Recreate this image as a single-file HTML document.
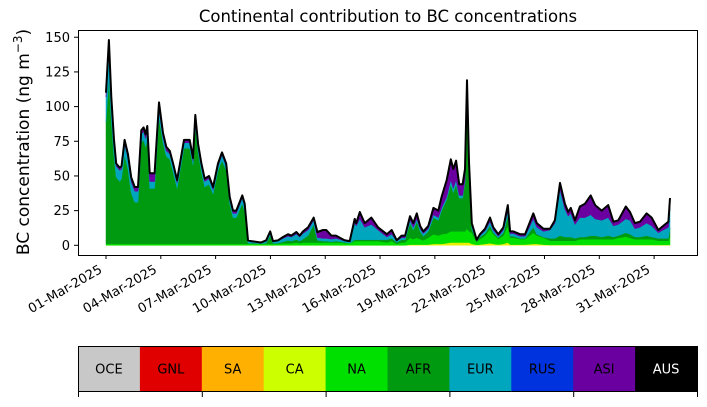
<!DOCTYPE html>
<html><head><meta charset="utf-8"><style>
body{margin:0;background:#fff;width:707px;height:402px;overflow:hidden}
svg{font-family:"DejaVu Sans","Liberation Sans",sans-serif}
</style></head><body>
<svg id="chart" width="707" height="402" viewBox="0 0 707 402" xmlns="http://www.w3.org/2000/svg">
<text x="388" y="22" font-size="16.5" text-anchor="middle">Continental contribution to BC concentrations</text>
<text transform="translate(29,142) rotate(-90)" font-size="17" text-anchor="middle">BC concentration (ng m<tspan dy="-7" font-size="12">−3</tspan><tspan dy="7">)</tspan></text>
<g id="plot"></g>
<rect x="78.5" y="30.5" width="619" height="225" fill="none" stroke="#000" stroke-width="1"/>
<g id="yaxis"></g>
<g id="xaxis"></g>
<g id="legend"></g>
</svg>
<script>
const days=[1.00,1.16,1.29,1.44,1.56,1.75,1.85,2.02,2.20,2.38,2.57,2.75,2.93,3.06,3.17,3.26,3.39,3.66,3.90,4.12,4.30,4.49,4.67,4.89,5.27,5.58,5.76,5.89,6.04,6.22,6.40,6.64,6.86,7.13,7.35,7.58,7.77,7.95,8.13,8.46,8.59,
8.77,8.95,9.48,9.77,9.99,10.14,10.41,10.69,10.96,11.14,11.42,11.60,11.78,12.06,12.37,12.57,12.88,13.06,13.33,13.59,13.86,14.06,14.34,
14.61,14.70,14.89,15.16,15.52,15.89,
16.37,16.64,16.91,17.18,17.37,17.64,17.82,18.01,18.19,18.37,18.64,18.92,19.19,19.37,19.65,19.87,20.01,20.16,20.33,20.52,20.65,20.76,20.87,
21.02,21.29,21.47,21.75,22.02,22.20,22.47,22.75,22.99,23.12,23.30,23.66,23.94,24.39,24.58,24.94,
25.30,25.57,25.85,26.12,26.30,26.44,26.67,26.94,27.22,27.53,27.77,28.13,28.49,28.77,29.04,29.45,29.68,29.95,30.23,30.59,30.87,31.23,31.50,31.78,31.87];
const total=[110,148,107,76,59,56,57,76,66,49,42,42,83,85,80,86,52,52,103,81,71,68,59,47,76,76,63,94,73,59,48,50,42,59,67,59,35,25,25,36,30,
3.6,3,2,3.6,10,3,3.5,6,8,7,9.6,7,10,13,20,9.6,11,11,7,7,5,3.6,3,
19,16,24,16,20,13,
8,11,3.6,7,7,21,16,23,14,10,14,27,25,35,47,62,55,61,44,44,55,119,60,
16,4,8,12,20,13,8,13,29,10,10,8,8,23,16,12,
12,18,45,30,24,27,18,28,30,36,29,25,29,17,18,28,24,16,17,23,20,11,14,17,34];
const caVals=[0,0,0,0,0,0,0,0,0,0,0,0,0,0,0,0,0,0,0,0,0,0,0,0,0,0,0,0,0,0,0,0,0,0,0,0,0,0,0,0,0,
0,0,0,0,0,0,0,0,0,0,0,0,0,0,0,0,0,0,0,0,0,0,0,
0,0,0,0,0,0,
0,0,0,0,0,0.5,0.5,0.5,0.5,0.5,0.5,1,1,1,1.5,2,2,2,2,2,2,2,2,
1,0.3,0.5,1,1.5,1,0.5,1,2,0.5,0.5,0.5,0.5,1,1,0.5,
0.3,0.3,0.3,0.3,0.3,0.3,0.3,0.3,0.3,0.3,0.3,0.3,0.3,0.3,0.3,0.3,0.3,0.3,0.3,0.3,0.3,0.3,0.3,0.3,0.3];
const naVals=[1,1,1,1,1,1,1,1,1,1,1,1,1,1,1,1,1,1,1,1,1,1,1,1,1,1,1,1,1,1,1,1,1,1,1,1,1,1,1,1,1,
1,1,1,1,1,1,1,1.5,1.5,1.5,2,1.5,2,2,2,2,2,2,2,2,2,1.5,1.5,
3,3,3,3,3,3,
2,3,1,2,2,5,4,5,4,3,5,7,6,7,7,8,8,8,8,8,8,10,8,
8,2,4,6,10,7,4,6,12,5,5,4,4,8,6,5,
3,3,3,3,3,3,3,4,4,4,4,4,4,4,5,6,5,4,4,4,4,3,3,3,6];
const eurVals=[18,22,14,10,8,8,7,8,8,8,8,8,6,6,6,6,5,5,6,4,4,4,4,4,4,4,3,5,4,4,4,4,3,3,4,3,3,3,3,4,4,
1.5,1,0.5,1.5,2,1,1.5,2.5,3,3,4,3,4,4,3,2,2,2,2,2,1.5,1,1,
12,10,15,9,11,7,
2,3,1,1.5,1.5,2,2,2,2,2,2,2,2,2,2,3,3,3,2,2,2,2,2,
2,0.5,1,2,3,2,1,2,4,2,2,1.5,1.5,6,5,4,
6,11,33,20,15,17,10,14,14,15,12,12,13,8,8,10,10,6,7,9,8,4,6,8,14];
const asiVals=[3,6,3,2,2,2,2,3,3,3,3,3,3,3,3,4,6,6,5,3,3,2,2,2,2,2,2,3,2,2,2,2,2,2,2,2,2,2,2,2,2,
0.5,0.5,0.3,0.5,1,0.5,0.5,1,1.5,1,1.5,1,1.5,2,2,4,6,6,2.5,2,1,0.5,0.5,
3,2,5,3,5,2,
2,3,0.5,1.5,1.5,3,3,4,2,1.5,2,5,5,8,12,15,14,14,8,8,8,4,4,
2,0.5,1,1.5,3,2,1.5,2,4,1.5,1.5,1.5,1.5,4,3,2,
1,2,5,4,3,4,3,8,10,14,10,7,9,3,3,9,6,4,4,7,6,2,3,4,8];
const yTicks=[0,25,50,75,100,125,150];
const xTickDays=[1,4,7,10,13,16,19,22,25,28,31];
const xTickLabels=["01-Mar-2025","04-Mar-2025","07-Mar-2025","10-Mar-2025","13-Mar-2025","16-Mar-2025","19-Mar-2025","22-Mar-2025","25-Mar-2025","28-Mar-2025","31-Mar-2025"];
const regions=["OCE","GNL","SA","CA","NA","AFR","EUR","RUS","ASI","AUS"];
const regionColors=["#c8c8c8","#e00000","#ffb000","#ccff00","#00e000","#009a10","#00a5be","#0033dd","#6a00a0","#000000"];

const NS="http://www.w3.org/2000/svg";
const X=d=>106+(d-1)*18.27;
const Y=v=>245.3-v*1.387;
function mk(tag,attrs,parent){const e=document.createElementNS(NS,tag);for(const k in attrs)e.setAttribute(k,attrs[k]);parent.appendChild(e);return e;}
const plot=document.getElementById('plot');
const n=days.length;
const afrVals=days.map((d,i)=>Math.max(0,total[i]-caVals[i]-naVals[i]-eurVals[i]-asiVals[i]));
const layers=[["ca",caVals,"#e8f000"],["na",naVals,"#00e000"],["afr",afrVals,"#009a10"],["eur",eurVals,"#00a5be"],["asi",asiVals,"#6a00a0"]];
let base=new Array(n).fill(0);
layers.forEach(([name,vals,col])=>{
  const top=base.map((b,i)=>b+vals[i]);
  let d="M"+days.map((t,i)=>X(t).toFixed(1)+","+Y(top[i]).toFixed(1)).join("L");
  for(let i=n-1;i>=0;i--)d+="L"+X(days[i]).toFixed(1)+","+Y(base[i]).toFixed(1);
  d+="Z";
  const p=mk('path',{d:d,fill:col,stroke:col,'stroke-width':0.5},plot);
  
  
  base=top;
});
const line=mk('path',{d:"M"+days.map((t,i)=>X(t).toFixed(1)+","+Y(total[i]).toFixed(1)).join("L"),fill:"none",stroke:"#000","stroke-width":2,"stroke-linejoin":"round"},plot);



const ya=document.getElementById('yaxis');
yTicks.forEach(v=>{
  const t=mk('line',{x1:74,x2:78,y1:Y(v),y2:Y(v),stroke:"#000"},ya);
  
  
  const l=mk('text',{x:70,y:Y(v)+4.5,'font-size':13,'text-anchor':'end'},ya);
  l.textContent=v;
  
  
});
const xa=document.getElementById('xaxis');
xTickDays.forEach((d,i)=>{
  const x=X(d);
  const t=mk('line',{x1:x,x2:x,y1:255,y2:259,stroke:"#000"},xa);
  
  
  const l=mk('text',{transform:`translate(${x-3},${272}) rotate(-30)`,'font-size':13,'text-anchor':'end'},xa);
  l.textContent=xTickLabels[i];
  
  
});
const lg=document.getElementById('legend');
const cw=619/regions.length;
regions.forEach((r,i)=>{
  const x=78+i*cw;
  const c=mk('rect',{x:x,y:346,width:cw+0.5,height:46,fill:regionColors[i]},lg);
  
  
  const t=mk('text',{x:x+cw/2,y:373.5,'font-size':13,'text-anchor':'middle',fill:r==="AUS"?"#fff":"#000"},lg);
  t.textContent=r;
  
  
});
const fr=mk('rect',{x:78.5,y:346.5,width:619,height:45,fill:"none",stroke:"#000"},lg);


for(let k=0;k<=5;k++){
  const x=78.5+k*cw*2;
  const t=mk('line',{x1:x,x2:x,y1:392,y2:397,stroke:"#000"},lg);
  
  
}
</script>
</body></html>
